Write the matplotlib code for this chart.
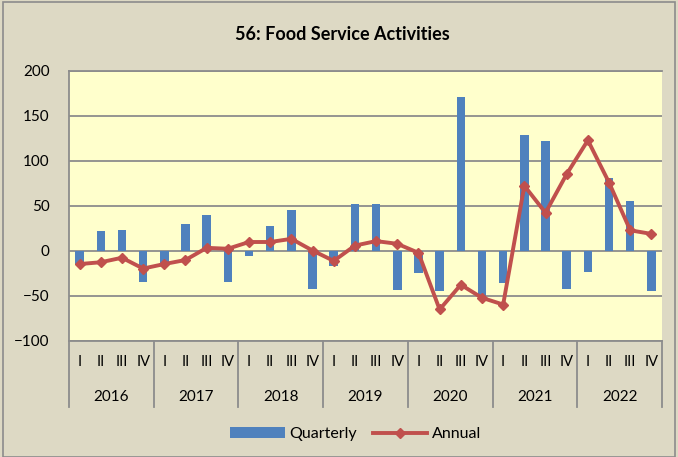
import matplotlib.pyplot as plt
from matplotlib.patches import Rectangle

years = ['2016', '2017', '2018', '2019', '2020', '2021', '2022']
quarters = ['I', 'II', 'III', 'IV']

quarterly = [-14, 22, 23, -34,
             -13, 29.5, 40.5, -35,
             -6, 28, 45.5, -42,
             -17, 52.5, 52.5, -43,
             -25, -45, 171.5, -50,
             -36, 129, 122.5, -42,
             -23, 81, 55.5, -44]
annual = [-14.5, -12.5, -7.5, -19.5,
          -14.5, -10, 3.5, 2.5,
          10, 10, 13.5, 0.5,
          -11, 6, 11, 8,
          -2, -65, -37.5, -52,
          -59.5, 72.5, 42.5, 85.5,
          123, 76, 23, 19]

plt.rcParams['font.family'] = ['Lato', 'DejaVu Sans']

W, H = 678, 457
fig = plt.figure(figsize=(W / 100, H / 100), dpi=100)
fig.patch.set_facecolor('#DDD9C4')
fig.patches.append(Rectangle((3 / W, 0), 1 - 6 / W, 1 - 2 / H, transform=fig.transFigure,
                             fill=False, edgecolor='#8C8C8C', linewidth=1.2))

left, right, top, bottom = 69, 662, 71, 341
ax = fig.add_axes([left / W, 1 - bottom / H, (right - left) / W, (bottom - top) / H])
ax.set_facecolor('#FFFFCC')

x = list(range(len(quarterly)))
bars = ax.bar(x, quarterly, width=0.4, color='#4F81BD', label='Quarterly', zorder=2)
line, = ax.plot(x, annual, color='#C0504D', linewidth=2.8, marker='D', markersize=5.5,
                label='Annual', zorder=3)

ax.set_ylim(-100, 200)
ax.set_yticks(range(-100, 201, 50))
ax.set_xlim(-0.5, len(quarterly) - 0.5)
ax.yaxis.grid(True, color='#8C8C8C', linewidth=1.3, zorder=1)
ax.set_axisbelow(True)
ax.tick_params(axis='y', length=0, labelsize=11, pad=14)
ax.set_xticks([])
for s in ['top', 'left', 'bottom']:
    ax.spines[s].set_color('#8C8C8C')
    ax.spines[s].set_linewidth(1.3)
ax.spines['right'].set_visible(False)

# two-level category axis
tr = ax.get_xaxis_transform()
sep_bottom = -(407 - bottom) / (bottom - top)
for i in range(len(years) + 1):
    xs = -0.5 + 4 * i
    ax.plot([xs, xs], [0, sep_bottom], transform=tr, color='#8C8C8C',
            linewidth=1.3, clip_on=False)
for i in x:
    ax.text(i, -(362 - bottom) / (bottom - top), quarters[i % 4], transform=tr,
            ha='center', va='center', fontsize=10.5)
for k, yr in enumerate(years):
    ax.text(1.5 + 4 * k, -(397 - bottom) / (bottom - top), yr, transform=tr,
            ha='center', va='center', fontsize=11)

fig.text(342 / W, 1 - 35 / H, '56: Food Service Activities', ha='center', va='center',
         fontsize=13, fontweight='bold')

fig.legend([bars, line], ['Quarterly', 'Annual'], loc='center',
           bbox_to_anchor=(356 / W, 1 - 434 / H), ncol=2, frameon=False,
           fontsize=11.5, handlelength=3.4, columnspacing=1.0, handletextpad=0.3)

fig.savefig('out.png', dpi=100, facecolor=fig.get_facecolor())
